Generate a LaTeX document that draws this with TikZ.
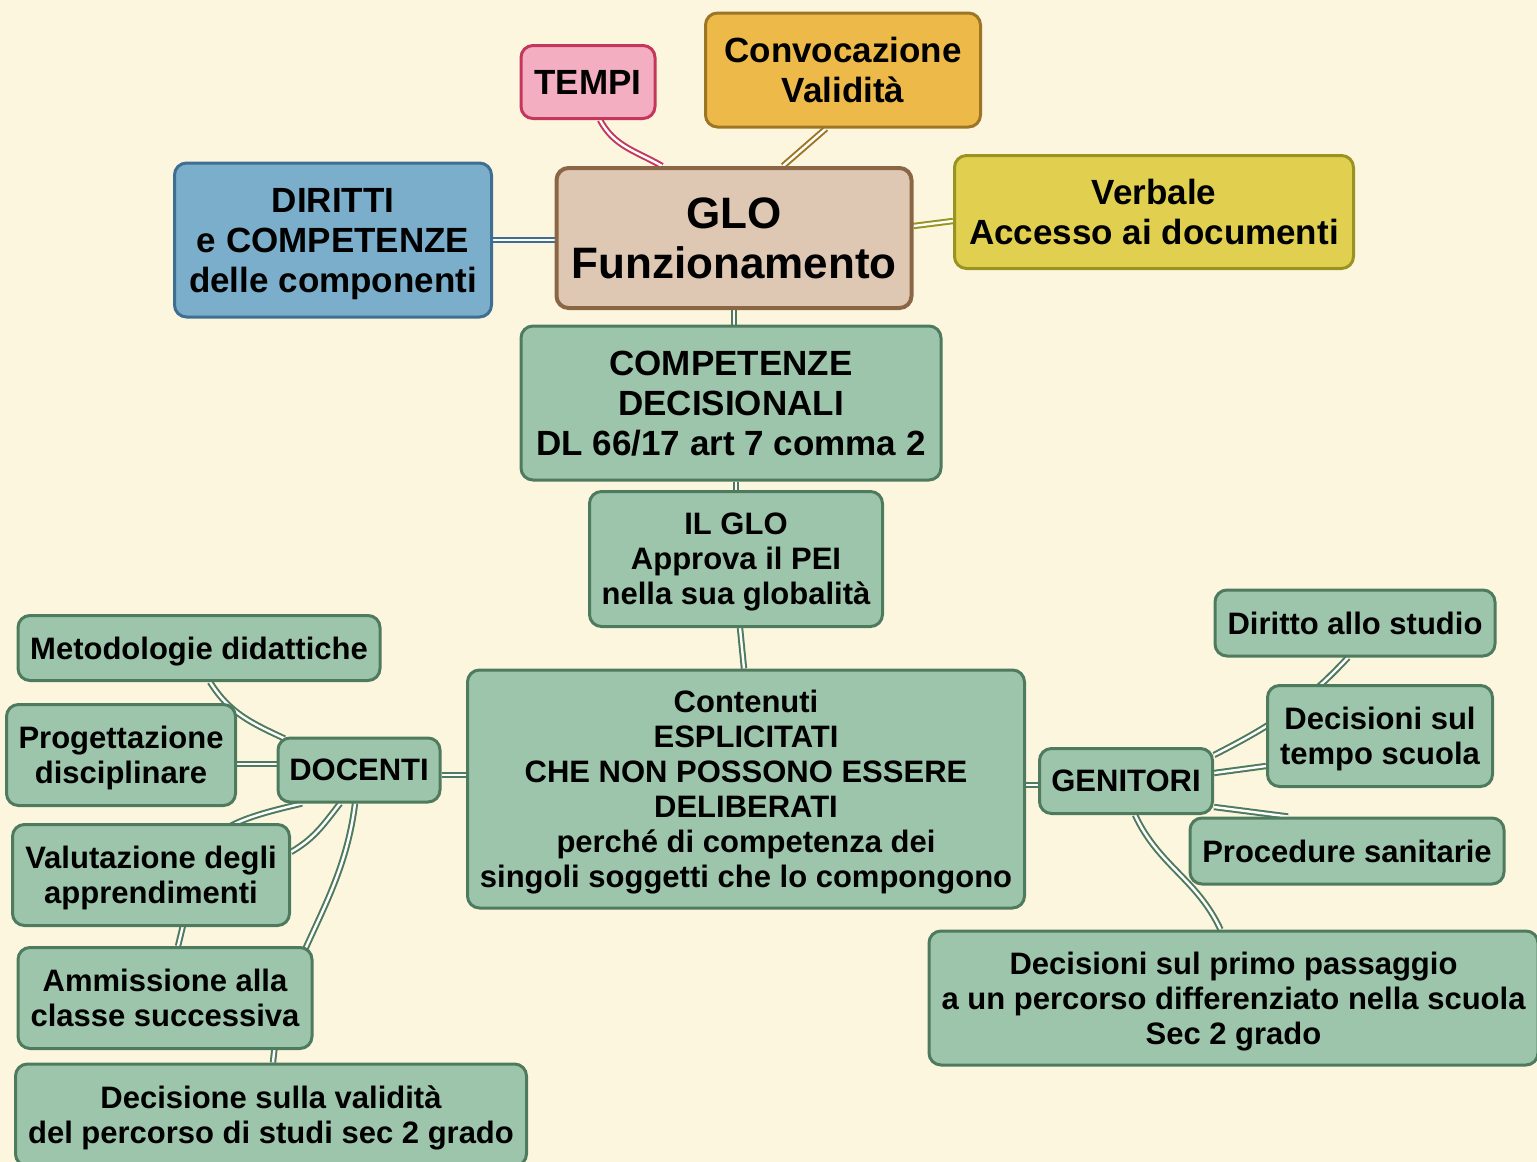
\documentclass[tikz,border=0pt]{standalone}
\usepackage{fontspec}
\setmainfont{Liberation Sans}
\usetikzlibrary{calc}
\pgfdeclarelayer{back}
\pgfdeclarelayer{edges}
\pgfsetlayers{back,edges,main}

\definecolor{paper}{RGB}{253,246,223}
\definecolor{sage}{RGB}{157,197,171}
\definecolor{sageline}{RGB}{78,122,94}
\definecolor{tan}{RGB}{222,200,180}
\definecolor{tanline}{RGB}{139,102,68}
\definecolor{sky}{RGB}{122,174,202}
\definecolor{skyline}{RGB}{62,111,146}
\definecolor{rose}{RGB}{243,175,193}
\definecolor{roseline}{RGB}{196,54,91}
\definecolor{amber}{RGB}{237,186,74}
\definecolor{amberline}{RGB}{156,118,36}
\definecolor{citron}{RGB}{225,208,80}
\definecolor{citronline}{RGB}{153,147,33}

\tikzset{
  card/.style={rectangle, rounded corners=6pt, line width=1.5pt, align=center,
    inner sep=0pt, text depth=0pt, font=\bfseries\fontsize{15.5}{17.5}\selectfont},
  greencard/.style={card, draw=sageline, fill=sage},
  bigtext/.style={font=\bfseries\fontsize{17.5}{20}\selectfont},
  link/.style={draw=#1, line width=1pt, double=white, double distance=1.2pt},
  link/.default=sageline
}

\begin{document}
\begin{tikzpicture}[x=0.5pt,y=-0.5pt]
\useasboundingbox (0,0) rectangle (1537,1162);
\begin{pgfonlayer}{back}
  \fill[paper] (-5,-5) rectangle (1545,1170);
\end{pgfonlayer}

% central column
\node[card, draw=tanline, fill=tan, line width=2pt, minimum width=177.5pt, minimum height=70pt,
      font=\bfseries\fontsize{22}{25}\selectfont] (glo) at (734,238) {GLO\\Funzionamento};
\node[card, bigtext, draw=roseline, fill=rose, minimum width=67pt, minimum height=36.5pt] (tempi) at (588,82) {TEMPI};
\node[card, bigtext, draw=amberline, fill=amber, minimum width=137.5pt, minimum height=57pt] (conv) at (843,70) {Convocazione\\Validità};
\node[card, bigtext, draw=skyline, fill=sky, minimum width=158.5pt, minimum height=77pt] (dir) at (333,240) {DIRITTI\\e COMPETENZE\\delle componenti};
\node[card, bigtext, draw=citronline, fill=citron, minimum width=199.5pt, minimum height=56.5pt] (verb) at (1154,212) {Verbale\\Accesso ai documenti};
\node[greencard, bigtext, minimum width=210pt, minimum height=77pt] (comp) at (731,403) {COMPETENZE\\DECISIONALI\\DL 66/17 art 7 comma 2};
\node[greencard, minimum width=146.5pt, minimum height=67.5pt] (ilglo) at (736,559) {IL GLO\\Approva il PEI\\nella sua globalità};
\node[greencard, minimum width=278.5pt, minimum height=119pt] (cont) at (746,789)
  {Contenuti\\ESPLICITATI\\CHE NON POSSONO ESSERE\\DELIBERATI\\perché di competenza dei\\singoli soggetti che lo compongono};

% teachers' branch
\node[greencard, minimum width=81pt, minimum height=32pt] (doc) at (359,770) {DOCENTI};
\node[greencard, minimum width=181pt, minimum height=32.5pt] (metod) at (199,648) {Metodologie didattiche};
\node[greencard, minimum width=114.5pt, minimum height=50.5pt] (prog) at (121,755) {Progettazione\\disciplinare};
\node[greencard, minimum width=138.5pt, minimum height=50.5pt] (valut) at (151,875) {Valutazione degli\\apprendimenti};
\node[greencard, minimum width=147pt, minimum height=50.5pt] (amm) at (165,998) {Ammissione alla\\classe successiva};
\node[greencard, minimum width=255.5pt, minimum height=51pt] (decval) at (271,1115) {Decisione sulla validità\\del percorso di studi sec 2 grado};

% parents' branch
\node[greencard, minimum width=86.5pt, minimum height=32.5pt] (gen) at (1126,781) {GENITORI};
\node[greencard, minimum width=140pt, minimum height=33pt] (dirst) at (1355,623) {Diritto allo studio};
\node[greencard, minimum width=112.5pt, minimum height=50.5pt] (dectempo) at (1380,736) {Decisioni sul\\tempo scuola};
\node[greencard, minimum width=157pt, minimum height=33pt] (proc) at (1347,851) {Procedure sanitarie};
\node[greencard, minimum width=304.5pt, minimum height=67pt] (decprimo) at (1233.5,998) {Decisioni sul primo passaggio\\a un percorso differenziato nella scuola\\Sec 2 grado};

\begin{pgfonlayer}{edges}
  % links around the central node
  \draw[link=roseline] ([xshift=6pt]tempi.south) to[out=-62,in=150] ([xshift=-36pt]glo.north);
  \draw[link=amberline] ([xshift=-8.5pt]conv.south) -- ([xshift=24.5pt]glo.north);
  \draw[link=skyline] (dir.east) -- (dir.east -| glo.west);
  \draw[link=citronline] ([yshift=6pt]glo.east) -- ([yshift=-4.5pt]verb.west);
  \draw[link] (glo.south) -- (glo.south |- comp.north);
  \draw[link] (ilglo.north |- comp.south) -- (ilglo.north);
  \draw[link] ([xshift=2pt]ilglo.south) -- ([xshift=-1pt]cont.north);
  \draw[link] ([yshift=-2.5pt]doc.east) -- ([yshift=-2.5pt]doc.east -| cont.west);
  \draw[link] ([yshift=-2pt]gen.west) -- ([yshift=-2pt]gen.west -| cont.east);

  % teachers
  \draw[link] ([xshift=5.5pt]metod.south) to[out=-58,in=155] ([xshift=4pt,yshift=-1pt]doc.north west);
  \draw[link] ([yshift=3pt]doc.west) -- ([yshift=3pt]doc.west -| prog.east);
  \draw[link] ([xshift=-9.5pt]doc.south) to[out=-128,in=30] ([yshift=11.5pt]valut.east);
  \draw[link] ([xshift=-28.5pt]doc.south) to[out=-167,in=76,looseness=1.5] ([xshift=6.5pt]amm.north);
  \draw[link] ([xshift=-2pt]doc.south) to[out=-97,in=85] ([xshift=1pt]decval.north);

  % parents
  \draw[link] ([yshift=-4pt]gen.north east) to[out=27,in=-133] ([xshift=-3.5pt]dirst.south);
  \draw[link] ([yshift=4pt]gen.east) -- ([yshift=-15pt]dectempo.west);
  \draw[link] ([yshift=4pt]gen.south east) -- ([xshift=-29.5pt]proc.north);
  \draw[link] ([xshift=4.5pt]gen.south) to[out=-65,in=115] ([xshift=-6.5pt]decprimo.north);
\end{pgfonlayer}
\end{tikzpicture}
\end{document}
